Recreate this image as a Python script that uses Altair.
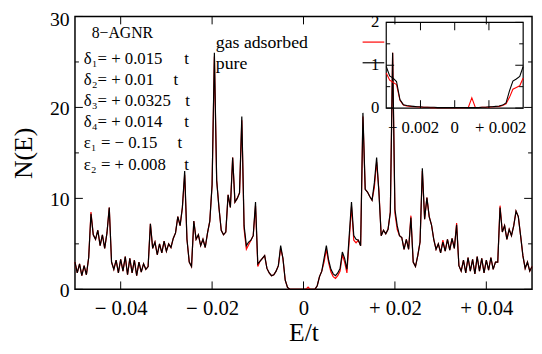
import altair as alt
import pandas as pd

# ---------------- data ----------------
E_START, E_STEP = -0.05, 0.0005
pure = [3.0, 1.8, 2.8, 1.5, 2.6, 1.6, 3.5, 8.3, 6.0, 5.5,
        6.5, 4.8, 6.0, 4.5, 6.2, 9.0, 3.0, 2.2, 3.2, 1.8,
        3.3, 2.0, 3.6, 1.6, 3.4, 1.8, 3.2, 1.5, 3.0, 1.9,
        2.8, 2.2, 2.5, 7.2, 4.5, 5.2, 3.8, 5.0, 4.0, 5.3,
        4.2, 5.0, 4.6, 5.6, 6.2, 8.0, 7.0, 9.0, 13.0, 5.5,
        3.0, 2.5, 7.5, 5.5, 6.0, 4.8, 5.5, 4.6, 6.2, 7.5,
        11.5, 26.0, 12.0, 9.0, 6.5, 6.0, 6.3, 10.4, 9.0, 14.5,
        9.6, 10.0, 10.6, 19.0, 7.0, 4.8, 5.2, 5.4, 5.9, 9.6,
        2.8, 3.1, 3.4, 3.7, 2.3, 1.8, 1.5, 1.6, 2.0, 2.6,
        4.8, 3.4, 1.0, 0.2, 0.0, 0.0, 0.0, 0.0, 0.0, 0.0,
        0.0, 0.0, 0.0, 0.0, 0.0, 0.0, 0.4, 1.4, 2.0, 3.4,
        4.8, 3.2, 2.2, 1.7, 1.5, 1.8, 2.3, 4.1, 3.4, 2.2,
        5.9, 9.6, 5.9, 5.5, 5.4, 4.8, 19.4, 11.0, 10.7, 10.2,
        9.8, 11.7, 14.5, 10.6, 5.9, 6.5, 6.1, 6.6, 8.5, 26.0,
        8.8, 7.0, 5.9, 5.7, 4.4, 5.5, 4.4, 7.9, 3.0, 2.5,
        3.7, 5.2, 13.3, 7.7, 10.1, 8.0, 7.1, 5.5, 4.4, 5.0,
        4.0, 5.2, 4.2, 5.5, 4.3, 5.6, 4.5, 7.1, 2.6, 2.0,
        3.2, 1.8, 3.5, 2.0, 3.3, 1.7, 3.6, 2.0, 3.4, 1.8,
        3.2, 2.1, 3.5, 2.2, 3.0, 3.0, 9.0, 6.3, 7.0, 5.5,
        6.6, 5.9, 7.0, 8.6, 8.0, 5.9, 3.7, 2.3, 3.0, 2.0,
        2.5]
gas = [3.0, 1.8, 2.8, 1.5, 2.6, 1.6, 3.5, 8.5, 6.0, 5.5,
       6.5, 4.8, 6.0, 4.5, 6.2, 9.0, 3.0, 2.2, 3.2, 1.8,
       3.3, 2.0, 3.6, 1.6, 3.4, 1.8, 3.2, 1.5, 3.0, 1.9,
       2.8, 2.2, 2.5, 7.2, 4.5, 5.2, 3.8, 5.0, 4.0, 5.3,
       4.2, 5.0, 4.6, 5.6, 6.2, 8.0, 7.0, 9.0, 12.6, 5.5,
       3.0, 2.5, 7.5, 5.5, 6.0, 4.8, 5.5, 4.6, 6.2, 7.5,
       11.5, 25.6, 12.0, 9.0, 6.5, 6.0, 6.3, 10.4, 9.0, 14.5,
       9.6, 10.0, 10.6, 18.6, 6.6, 4.4, 4.9, 5.4, 5.9, 9.2,
       2.5, 3.1, 3.4, 3.7, 2.3, 1.8, 1.5, 1.6, 2.0, 2.6,
       4.5, 3.4, 1.0, 0.2, 0.0, 0.0, 0.0, 0.0, 0.0, 0.0,
       0.0, 0.0, 0.25, 0.0, 0.0, 0.0, 0.4, 1.4, 2.0, 3.0,
       4.4, 2.9, 1.9, 1.4, 1.2, 1.5, 2.0, 3.8, 3.0, 1.8,
       5.4, 9.1, 5.4, 5.1, 5.4, 4.8, 19.0, 11.0, 10.7, 10.2,
       9.8, 11.2, 14.0, 10.9, 5.9, 6.5, 6.1, 6.6, 8.5, 26.0,
       8.4, 6.6, 5.9, 5.7, 4.4, 5.5, 4.4, 8.1, 3.0, 2.5,
       3.7, 5.2, 13.0, 7.7, 10.1, 8.0, 7.1, 5.5, 4.4, 5.0,
       4.0, 5.4, 4.2, 5.5, 4.3, 5.6, 4.5, 7.3, 2.6, 2.0,
       3.2, 1.8, 3.5, 2.0, 3.3, 1.7, 3.6, 2.0, 3.4, 1.8,
       3.2, 2.1, 3.5, 2.2, 3.0, 3.0, 9.2, 6.3, 7.0, 5.5,
       6.6, 5.9, 7.0, 8.6, 8.0, 5.9, 3.7, 2.3, 3.0, 2.0,
       2.5]
energy = [round(E_START + E_STEP * i, 4) for i in range(len(pure))]

INSET_START, INSET_STEP = -0.004, 0.0002
inset_pure = [0.97, 0.75, 0.70, 0.62, 0.20, 0.08, 0.06, 0.05, 0.04, 0.03,
              0.03, 0.02, 0.02, 0.02, 0.02, 0.01, 0.01, 0.01, 0.01, 0.01,
              0.01, 0.01, 0.01, 0.01, 0.01, 0.01, 0.01, 0.01, 0.02, 0.02,
              0.03, 0.03, 0.04, 0.05, 0.07, 0.12, 0.40, 0.63, 0.68, 0.74,
              0.97]
inset_gas = [0.82, 0.65, 0.60, 0.55, 0.18, 0.07, 0.05, 0.04, 0.03, 0.03,
             0.02, 0.02, 0.02, 0.01, 0.01, 0.01, 0.01, 0.01, 0.01, 0.01,
             0.01, 0.01, 0.01, 0.01, 0.02, 0.24, 0.02, 0.01, 0.02, 0.02,
             0.02, 0.03, 0.03, 0.04, 0.06, 0.10, 0.25, 0.44, 0.48, 0.52,
             0.70]
inset_energy = [round(INSET_START + INSET_STEP * i, 5) for i in range(len(inset_pure))]

x_ticks = [-0.04, -0.02, 0.0, 0.02, 0.04]
y_major = [0, 10, 20, 30]
y_minor = [5, 15, 25]
inset_x_ticks = [-0.002, 0.0, 0.002]
inset_x_labels = ["\u2212 0.002", "0", "+ 0.002"]
inset_y_ticks = [0, 1, 2]
inset_y_minor = [0.5, 1.5]
param_label = "8\u2212AGNR"
param_lines = ["\u03b4\u2081= + 0.015", "\u03b4\u2082= + 0.01", "\u03b4\u2083= + 0.0325",
               "\u03b4\u2084= + 0.014", "\u03b5\u2081 = \u2212 0.15", "\u03b5\u2082 = + 0.008"]
series_names = ["gas adsorbed", "pure"]
series_colors = ["#ff0000", "#000000"]

# ---------------- layout ----------------
W, H = 464, 277
SERIF = "Liberation Serif, Times New Roman, serif"

main_df = pd.DataFrame({"E": energy, "pure": pure, "gas": gas})
inset_df = pd.DataFrame({"E": inset_energy, "pure": inset_pure, "gas": inset_gas})

xs = alt.Scale(domain=[-0.05, 0.05], nice=False, zero=False)
ys = alt.Scale(domain=[0, 30], nice=False, zero=False)

x_axis = alt.Axis(
    values=x_ticks,
    labelExpr="datum.value > 0.0001 ? '+ ' + format(datum.value, '.2f') : (datum.value < -0.0001 ? '\u2212 ' + format(-datum.value, '.2f') : '0')",
    ticks=False, domain=False, grid=False,
    labelFont=SERIF, labelFontSize=21, labelColor="black", labelPadding=9,
    title="E/t", titleFont=SERIF, titleFontSize=26, titleFontWeight="normal",
    titleColor="black", titleY=44, titleBaseline="middle", labelFlush=False,
)
y_axis = alt.Axis(
    values=y_major, format="d",
    ticks=False, domain=False, grid=False,
    labelFont=SERIF, labelFontSize=20, labelColor="black", labelPadding=6,
    labelOffset={"condition": {"test": "datum.value >= 30", "value": 3}, "value": 1},
    title="N(E)", titleFont=SERIF, titleFontSize=26, titleFontWeight="normal",
    titleColor="black", titleX=-52, titleY=H / 2, titleAngle=-90,
    titleAlign="center", titleBaseline="middle", labelFlush=False,
)


def X(field):
    return alt.X(field, type="quantitative", scale=xs, axis=x_axis)


def Y(field):
    return alt.Y(field, type="quantitative", scale=ys, axis=y_axis)


layers = []
layers.append(alt.Chart(main_df).mark_line(color=series_colors[0], strokeWidth=1.2)
              .encode(x=X("E"), y=Y("gas")))
layers.append(alt.Chart(main_df).mark_line(color=series_colors[1], strokeWidth=1.2)
              .encode(x=X("E"), y=Y("pure")))

xt = pd.DataFrame({"v": x_ticks})
layers.append(alt.Chart(xt).mark_rule(color="black", strokeWidth=1)
              .encode(x=X("v"), y=alt.value(H), y2=alt.value(H - 8)))
layers.append(alt.Chart(xt).mark_rule(color="black", strokeWidth=1)
              .encode(x=X("v"), y=alt.value(0), y2=alt.value(8)))
for vals, ln in ((y_major, 8), (y_minor, 4)):
    yt = pd.DataFrame({"v": vals})
    layers.append(alt.Chart(yt).mark_rule(color="black", strokeWidth=1)
                  .encode(y=Y("v"), x=alt.value(0), x2=alt.value(ln)))
    layers.append(alt.Chart(yt).mark_rule(color="black", strokeWidth=1)
                  .encode(y=Y("v"), x=alt.value(W), x2=alt.value(W - ln)))

one = pd.DataFrame({"a": [0]})


def text_layer(txt, x, y, size=16, align="left"):
    return alt.Chart(one).mark_text(
        text=txt, font=SERIF, fontSize=size, color="black",
        align=align, baseline="middle",
    ).encode(x=alt.value(x), y=alt.value(y))


layers.append(text_layer(param_label, 17, 17))
t_x = [111, 100, 112, 111, 104, 111]
for k, s in enumerate(param_lines):
    yy = 43 + 21.5 * k
    layers.append(text_layer(s, 9, yy, size=17))
    layers.append(text_layer("t", t_x[k], yy, size=17))

# legend
for k, (name, col) in enumerate(zip(series_names, series_colors)):
    yy = 27 + 21 * k
    layers.append(text_layer(name, 143, yy, size=18))
    layers.append(alt.Chart(one).mark_rule(color=col, strokeWidth=1.2)
                  .encode(x=alt.value(292), x2=alt.value(314), y=alt.value(yy - 1)))

main_group = alt.layer(*layers)

# ---------------- inset ----------------
ixs = alt.Scale(domain=[-0.004, 0.004], range=[316, 455], nice=False, zero=False)
iys = alt.Scale(domain=[0, 2], range=[93, 6], nice=False, zero=False)


def IX(field):
    return alt.X(field, type="quantitative", scale=ixs, axis=None)


def IY(field):
    return alt.Y(field, type="quantitative", scale=iys, axis=None)


ilayers = []
box = pd.DataFrame({"x0": [-0.004], "x1": [0.004], "y0": [0], "y1": [2]})
ilayers.append(alt.Chart(box).mark_rect(fillOpacity=0, stroke="black", strokeWidth=1.2)
               .encode(x=IX("x0"), x2="x1", y=IY("y0"), y2="y1"))
ilayers.append(alt.Chart(inset_df).mark_line(color=series_colors[0], strokeWidth=1.1)
               .encode(x=IX("E"), y=IY("gas")))
ilayers.append(alt.Chart(inset_df).mark_line(color=series_colors[1], strokeWidth=1.1)
               .encode(x=IX("E"), y=IY("pure")))
ixt = pd.DataFrame({"v": inset_x_ticks})
ilayers.append(alt.Chart(ixt).mark_rule(color="black", strokeWidth=1)
               .encode(x=IX("v"), y=alt.value(93), y2=alt.value(85)))
ilayers.append(alt.Chart(ixt).mark_rule(color="black", strokeWidth=1)
               .encode(x=IX("v"), y=alt.value(6), y2=alt.value(14)))
for vals, ln in ((inset_y_ticks, 8), (inset_y_minor, 4)):
    iyt = pd.DataFrame({"v": vals})
    ilayers.append(alt.Chart(iyt).mark_rule(color="black", strokeWidth=1)
                   .encode(y=IY("v"), x=alt.value(316), x2=alt.value(316 + ln)))
    ilayers.append(alt.Chart(iyt).mark_rule(color="black", strokeWidth=1)
                   .encode(y=IY("v"), x=alt.value(455), x2=alt.value(455 - ln)))
iyl = pd.DataFrame({"v": inset_y_ticks})
ilayers.append(alt.Chart(iyl).mark_text(font=SERIF, fontSize=17, color="black",
                                        align="right", baseline="middle")
               .encode(y=IY("v"), x=alt.value(309), text=alt.Text("v:Q", format="d")))
label_dx = [-7, 0, 12]
for v, lab, dx in zip(inset_x_ticks, inset_x_labels, label_dx):
    d = pd.DataFrame({"v": [v]})
    ilayers.append(alt.Chart(d).mark_text(text=lab, font=SERIF, fontSize=17, color="black",
                                          align="center", baseline="middle", dx=dx)
                   .encode(x=IX("v"), y=alt.value(113)))

inset_group = alt.layer(*ilayers)

chart = (
    alt.layer(main_group, inset_group)
    .resolve_scale(x="independent", y="independent")
    .properties(
        width=W, height=H,
        autosize=alt.AutoSizeParams(type="none"),
        padding={"left": 68, "top": 6, "right": 2, "bottom": 60},
        background="white",
    )
    .configure_view(stroke="black", strokeWidth=1.5)
)

chart.save("out.html", embed_options={"renderer": "svg", "actions": False})
